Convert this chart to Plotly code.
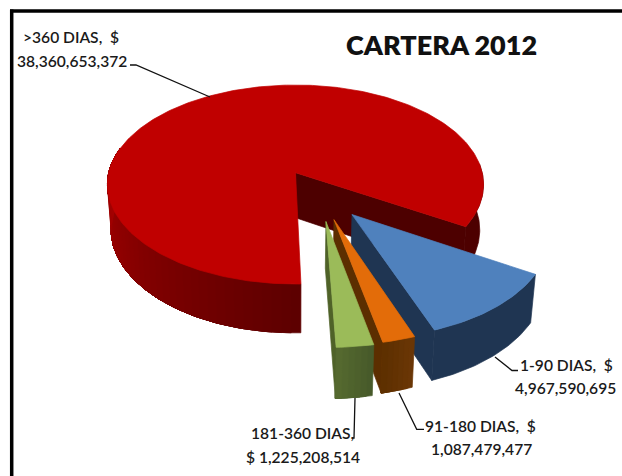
import math
import plotly.graph_objects as go

# ---- data ----
categories = ["1-90 DIAS", "91-180 DIAS", "181-360 DIAS", ">360 DIAS"]
values = [4967590695, 1087479477, 1225208514, 38360653372]
title_text = "CARTERA 2012"

# ---- style ----
top_colors = ["#4f81bd", "#e36c09", "#9bbb59", "#c00000"]
wall_colors = ["#1f3552", "#5c2e00", "#4f6228", "#4d0000"]
explode_x = [0.288, 0.195, 0.154, 0.0]
explode_y = [0.406, 0.453, 0.47, 0.0]
START = 121.1
CX, CY, A, B, K = 295.5, 172.7, 98.1, 186.7, 0.1187
DEPTH, SHRINK = 45.0, 0.98


def project(X, Y, bottom=False):
    d = 1 - K * Y
    if bottom:
        return CX + SHRINK * B * X / d, CY + (SHRINK * A * Y + DEPTH) / d
    return CX + B * X / d, CY + A * Y / d


def rim(theta, ex, ey, bottom=False):
    t = math.radians(theta)
    return project(ex + math.sin(t), ey - math.cos(t), bottom)


def hexmix(c1, c2, f):
    a = [int(c1[i:i + 2], 16) for i in (1, 3, 5)]
    b = [int(c2[i:i + 2], 16) for i in (1, 3, 5)]
    return "#" + "".join(f"{round(p + (q - p) * f):02x}" for p, q in zip(a, b))


fig = go.Figure()


def poly(points, color):
    fig.add_trace(go.Scatter(
        x=[p[0] for p in points] + [points[0][0]],
        y=[p[1] for p in points] + [points[0][1]],
        mode="lines", fill="toself", fillcolor=color,
        line=dict(color=color, width=0.7), hoverinfo="skip", showlegend=False))


def arc(t0, t1, ex, ey, bottom=False):
    n = max(2, int(abs(t1 - t0) / 1.0))
    return [rim(t0 + (t1 - t0) * i / n, ex, ey, bottom) for i in range(n + 1)]


def side(t0, t1, c0, c1, ex, ey, bands=1):
    # each band runs on to the far end, so the next one overlaps it and no seams show
    for i in range(bands):
        a = t0 + (t1 - t0) * i / bands
        poly(arc(a, t1, ex, ey) + arc(t1, a, ex, ey, True),
             hexmix(c0, c1, (i + 0.5) / bands))


total = sum(values)
spans = []
cur = START
for v in values:
    s = v / total * 360
    spans.append((cur, cur + s))
    cur += s

# red slice first (it sits at the back)
t0, t1 = spans[3]
poly([project(0, 0), project(0, 0, True),
      rim(t1, 0, 0, True), rim(t1, 0, 0)], wall_colors[3])
side(t1 - 360, 85, "#4d0000", "#4d0000", 0, 0)
side(t0, 285, "#5c0000", "#ad0000", 0, 0, bands=40)
poly([project(0, 0)] + arc(t0, t1, 0, 0), top_colors[3])

# exploded slices, back to front
side_ramps = [("#1f3552", "#1f3552", 1), ("#6b3706", "#5d2f00", 6), ("#46582a", "#566b2f", 6)]
for i in range(3):
    a, b = spans[i]
    ex, ey = explode_x[i], explode_y[i]
    poly([project(ex, ey), project(ex, ey, True), rim(b, ex, ey, True), rim(b, ex, ey)],
         wall_colors[i])
    side(a, b, side_ramps[i][0], side_ramps[i][1], ex, ey, bands=side_ramps[i][2])
    poly([project(ex, ey)] + arc(a, b, ex, ey), top_colors[i])

# leader lines
leaders = [
    ([495, 512, 518], [357, 370.5, 370.5]),
    ([399, 416.7, 424], [393, 429.3, 429.3]),
    ([355, 354, 352], [398, 438, 438]),
    ([130, 136, 210], [65, 65, 97]),
]
for lx, ly in leaders:
    fig.add_trace(go.Scatter(x=lx, y=ly, mode="lines", line=dict(color="#111111", width=1.3),
                             hoverinfo="skip", showlegend=False))

m = [f"{v:,}" for v in values]
label_lines = [
    (f"{categories[0]},  $", 566, 365), (m[0], 565, 388),
    (f"{categories[1]},  $", 480.5, 425.7), (m[1], 481, 449),
    (f"{categories[2]},", 302.5, 432.7), (f"$ {m[2]}", 302.5, 456.7),
    (f"{categories[3]},  $", 71, 36.7), (m[3], 71.5, 61),
]
ann = [dict(x=x, y=y, text=t, showarrow=False, xanchor="center", yanchor="middle",
            font=dict(family="Lato", size=15.6, color="#1a1a1a", weight=600))
       for t, x, y in label_lines]
ann.append(dict(x=441.5, y=44, text=title_text, showarrow=False, xanchor="center", yanchor="middle",
                font=dict(family="Lato", size=27, color="#111111", weight=800)))

fig.update_layout(
    width=622, height=476, margin=dict(l=0, r=0, t=0, b=0),
    paper_bgcolor="white", plot_bgcolor="white", showlegend=False,
    xaxis=dict(range=[0, 622], visible=False, fixedrange=True),
    yaxis=dict(range=[476, 0], visible=False, fixedrange=True),
    annotations=ann,
    shapes=[
        dict(type="line", x0=11.7, x1=11.7, y0=9.5, y1=476, line=dict(color="black", width=3.5)),
        dict(type="line", x0=10, x1=622, y0=11, y1=11, line=dict(color="black", width=3.5)),
    ],
)
fig.write_html("out.html", config=dict(displayModeBar=False, staticPlot=True),
               post_script="document.body.style.margin='0';document.body.style.overflow='hidden';")
